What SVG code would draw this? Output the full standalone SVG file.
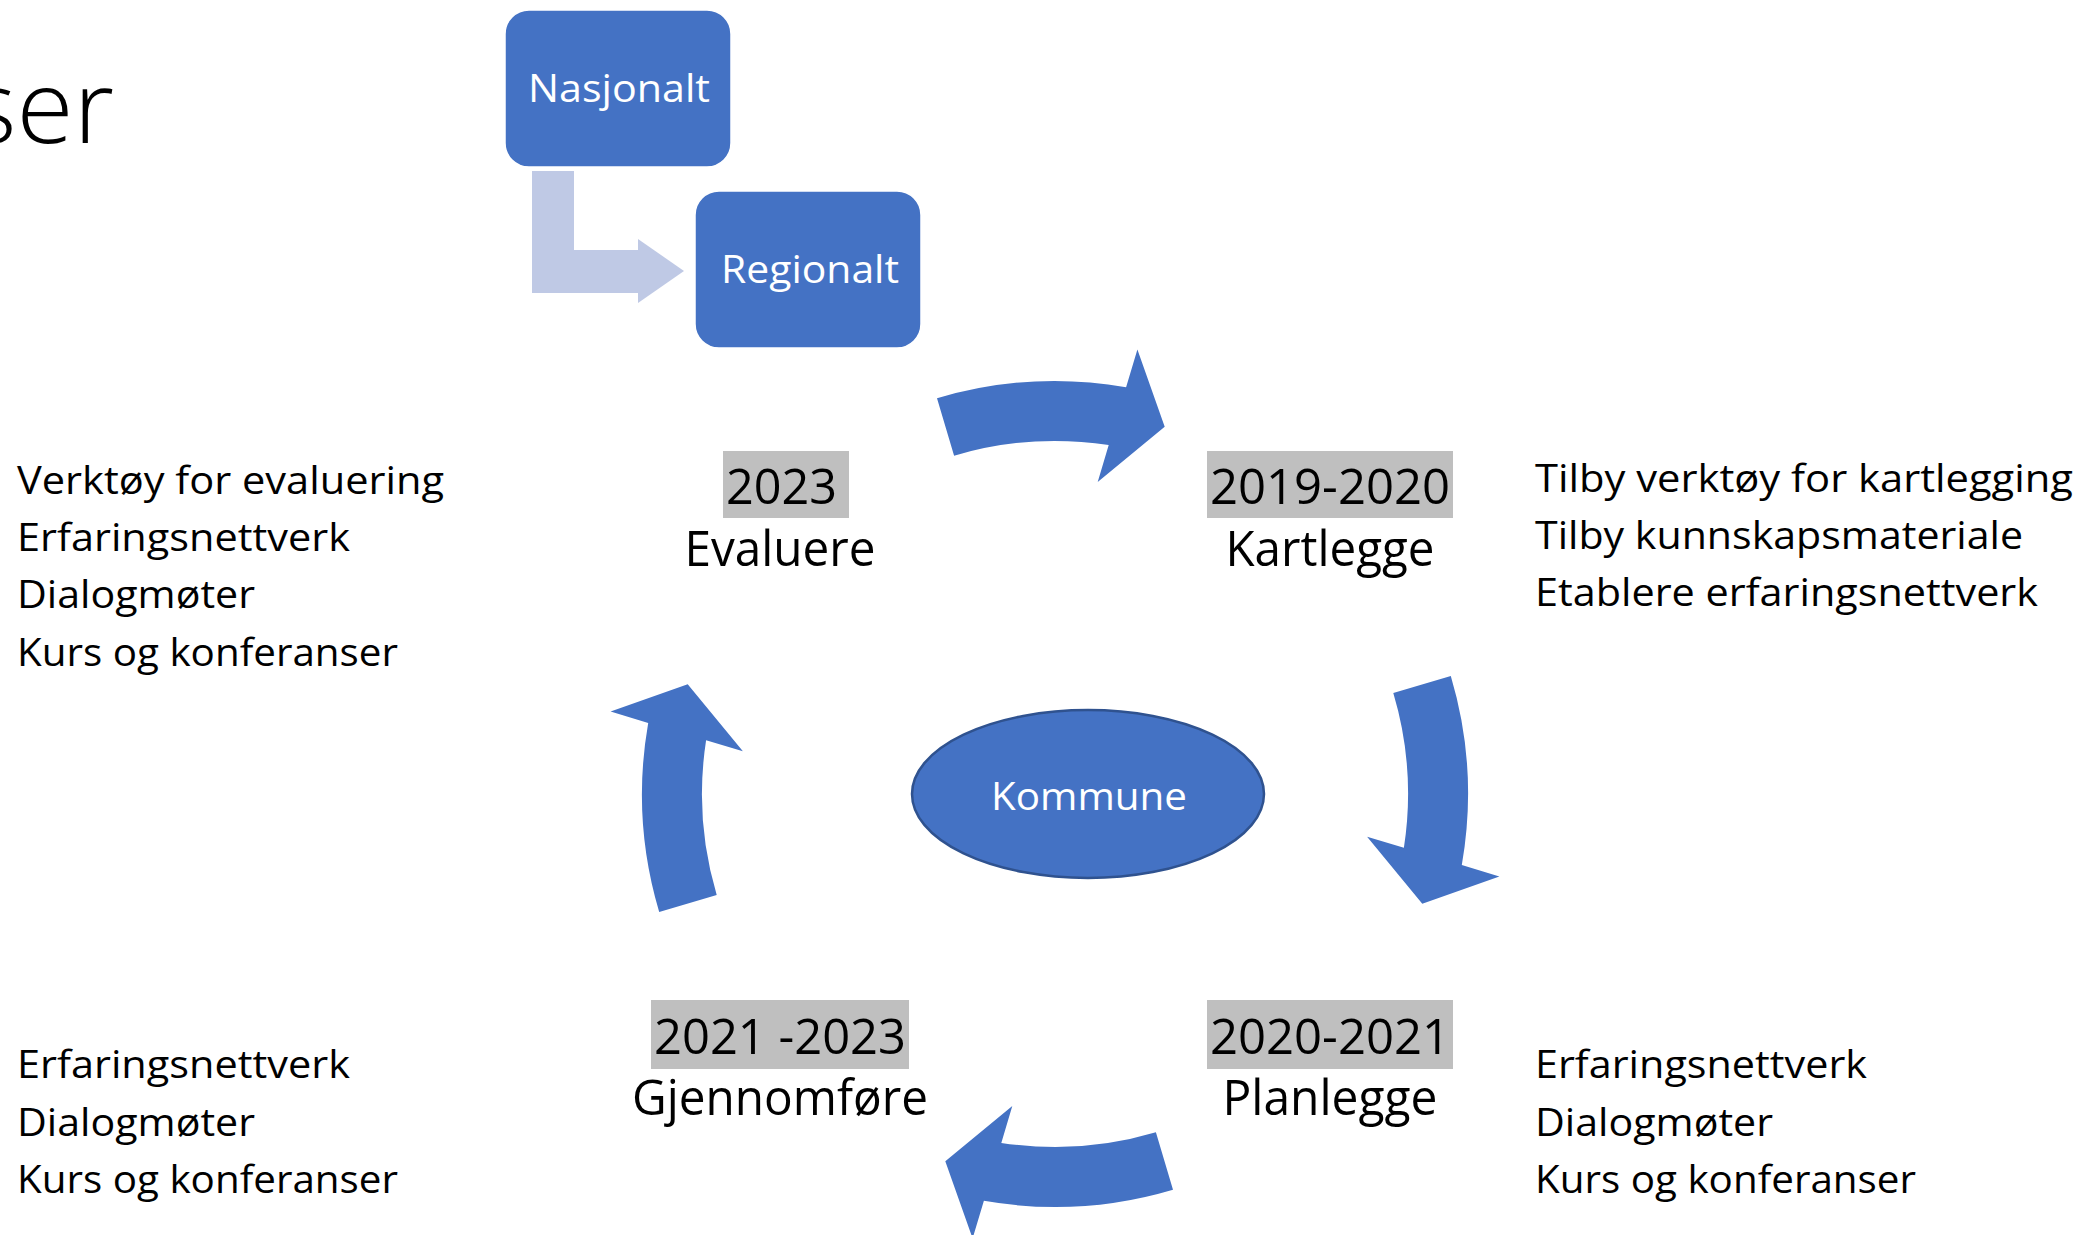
<svg xmlns="http://www.w3.org/2000/svg" xmlns:xlink="http://www.w3.org/1999/xlink" width="2081" height="1235" viewBox="0 0 2081 1235">
  <style>
    .t { font-family: "Open Sans", "Noto Sans", "DejaVu Sans", sans-serif; fill: #000000; }
    .big { font-size: 49px; }
    .list { font-size: 39px; }
    .white { fill: #FFFFFF; font-size: 39px; }
    .box { fill: #4472C4; stroke: #FFFFFF; stroke-width: 1.5; }
    .hl { fill: #BFBFBF; }
    .cyc { fill: #4472C4; }
  </style>
  <defs>
    <path id="cycArrow" d="M 937.0 398.2 A 413 413 0 0 1 1126.1 387.2 L 1137.4 349.6 L 1164.7 426.7 L 1097.7 481.9 L 1108.7 445.1 A 353 353 0 0 0 954.1 455.7 Z"/>
  </defs>
  <rect x="0" y="0" width="2081" height="1235" fill="#FFFFFF"/>

  <g id="title">
    <text class="t" x="-32" y="143" font-size="101" font-weight="300" textLength="146" lengthAdjust="spacingAndGlyphs">ser</text>
  </g>

  <g id="connectors">
    <path id="elbow-arrow" d="M 532 171 L 574 171 L 574 250 L 638 250 L 638 239 L 684 271 L 638 303 L 638 293 L 532 293 Z" fill="#BFC9E5"/>
    <use xlink:href="#cycArrow" class="cyc"/>
    <use xlink:href="#cycArrow" class="cyc" transform="rotate(90 1055 794)"/>
    <use xlink:href="#cycArrow" class="cyc" transform="rotate(180 1055 794)"/>
    <use xlink:href="#cycArrow" class="cyc" transform="rotate(270 1055 794)"/>
  </g>

  <g id="node-nasjonalt">
    <rect class="box" x="505" y="10" width="226" height="157" rx="24" ry="24"/>
    <text class="t white" x="619" y="102" text-anchor="middle" textLength="182" lengthAdjust="spacingAndGlyphs">Nasjonalt</text>
  </g>

  <g id="node-regionalt">
    <rect class="box" x="695" y="191" width="226" height="157" rx="24" ry="24"/>
    <text class="t white" x="810" y="283" text-anchor="middle" textLength="178" lengthAdjust="spacingAndGlyphs">Regionalt</text>
  </g>

  <g id="node-kommune">
    <ellipse cx="1088" cy="794" rx="176" ry="84" fill="#4472C4" stroke="#2F528F" stroke-width="2.5"/>
    <text class="t white" x="1089" y="810" text-anchor="middle" textLength="196" lengthAdjust="spacingAndGlyphs">Kommune</text>
  </g>

  <g id="node-evaluere">
    <rect class="hl" x="723" y="451" width="126" height="67"/>
    <text class="t big" x="726" y="504" textLength="111" lengthAdjust="spacingAndGlyphs">2023</text>
    <text class="t big" x="780" y="566" text-anchor="middle" textLength="191" lengthAdjust="spacingAndGlyphs">Evaluere</text>
  </g>

  <g id="node-kartlegge">
    <rect class="hl" x="1207" y="451" width="246" height="67"/>
    <text class="t big" x="1330" y="504" text-anchor="middle" textLength="240" lengthAdjust="spacingAndGlyphs">2019-2020</text>
    <text class="t big" x="1330" y="566" text-anchor="middle" textLength="209" lengthAdjust="spacingAndGlyphs">Kartlegge</text>
  </g>

  <g id="node-planlegge">
    <rect class="hl" x="1207" y="1000" width="246" height="69"/>
    <text class="t big" x="1330" y="1054" text-anchor="middle" textLength="240" lengthAdjust="spacingAndGlyphs">2020-2021</text>
    <text class="t big" x="1330" y="1115" text-anchor="middle" textLength="215" lengthAdjust="spacingAndGlyphs">Planlegge</text>
  </g>

  <g id="node-gjennomfore">
    <rect class="hl" x="651" y="1000" width="258" height="69"/>
    <text class="t big" x="780" y="1054" text-anchor="middle" textLength="252" lengthAdjust="spacingAndGlyphs">2021 -2023</text>
    <text class="t big" x="780" y="1115" text-anchor="middle" textLength="296" lengthAdjust="spacingAndGlyphs">Gjennomføre</text>
  </g>

  <g id="list-evaluere">
    <text class="t list" x="17" y="494" textLength="427" lengthAdjust="spacingAndGlyphs">Verktøy for evaluering</text>
    <text class="t list" x="17" y="551" textLength="333" lengthAdjust="spacingAndGlyphs">Erfaringsnettverk</text>
    <text class="t list" x="17" y="608" textLength="238" lengthAdjust="spacingAndGlyphs">Dialogmøter</text>
    <text class="t list" x="17" y="666" textLength="381" lengthAdjust="spacingAndGlyphs">Kurs og konferanser</text>
  </g>

  <g id="list-kartlegge">
    <text class="t list" x="1535" y="492" textLength="538" lengthAdjust="spacingAndGlyphs">Tilby verktøy for kartlegging</text>
    <text class="t list" x="1535" y="549" textLength="488" lengthAdjust="spacingAndGlyphs">Tilby kunnskapsmateriale</text>
    <text class="t list" x="1535" y="606" textLength="503" lengthAdjust="spacingAndGlyphs">Etablere erfaringsnettverk</text>
  </g>

  <g id="list-gjennomfore">
    <text class="t list" x="17" y="1078" textLength="333" lengthAdjust="spacingAndGlyphs">Erfaringsnettverk</text>
    <text class="t list" x="17" y="1136" textLength="238" lengthAdjust="spacingAndGlyphs">Dialogmøter</text>
    <text class="t list" x="17" y="1193" textLength="381" lengthAdjust="spacingAndGlyphs">Kurs og konferanser</text>
  </g>

  <g id="list-planlegge">
    <text class="t list" x="1535" y="1078" textLength="332" lengthAdjust="spacingAndGlyphs">Erfaringsnettverk</text>
    <text class="t list" x="1535" y="1136" textLength="238" lengthAdjust="spacingAndGlyphs">Dialogmøter</text>
    <text class="t list" x="1535" y="1193" textLength="381" lengthAdjust="spacingAndGlyphs">Kurs og konferanser</text>
  </g>
</svg>
